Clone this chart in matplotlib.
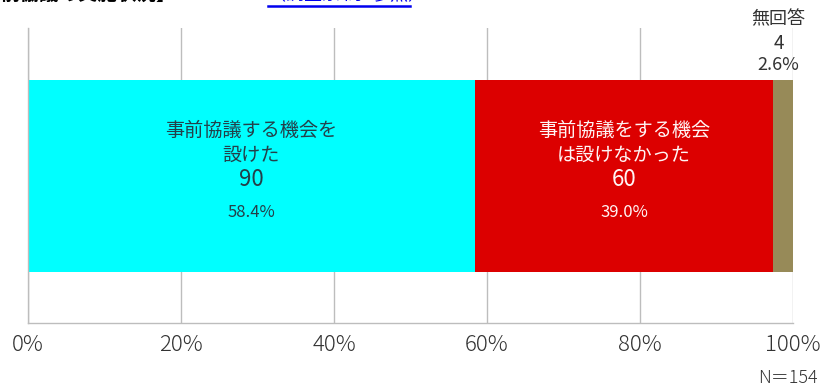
import matplotlib.pyplot as plt
from matplotlib.lines import Line2D

plt.rcParams['font.family'] = ['Noto Sans CJK JP', 'DejaVu Sans']

# answers to the prior-consultation question
categories = [['事前協議する機会を', '設けた'], ['事前協議をする機会', 'は設けなかった'], ['無回答']]
counts = [90, 60, 4]
shares = [58.4, 39.0, 2.6]
total_n = 154
colors = ['#00ffff', '#dc0000', '#978a58']
text_colors = ['#24404a', '#fff4f4', '#333333']
xticks = [0, 20, 40, 60, 80, 100]
xtick_labels = ['0%', '20%', '40%', '60%', '80%', '100%']

fig = plt.figure(figsize=(8.27, 3.89), dpi=100)
ax = fig.add_axes([28 / 827, 1 - 323 / 389, 765 / 827, 295 / 389])

left = 0
for lines, cnt, pct, col, tcol in zip(categories, counts, shares, colors, text_colors):
    ax.barh(0.4985, pct, height=0.651, left=left, color=col, zorder=2)
    mid = left + pct / 2
    if cnt >= 10:
        ax.text(mid, 0.654, lines[0], ha='center', va='center', fontsize=13.8,
                color=tcol, zorder=3)
        ax.text(mid, 0.569, lines[1], ha='center', va='center', fontsize=13.8,
                color=tcol, zorder=3)
        ax.text(mid, 0.485, str(cnt), ha='center', va='center', fontsize=16,
                color=tcol, zorder=3)
        ax.text(mid, 0.376, f'{pct:.1f}%', ha='center', va='center',
                fontsize=12, color=tcol, zorder=3)
    else:
        # small segment: label sits above the bar
        ax.text(mid - 0.6, 1.03, lines[0], ha='center', va='center',
                fontsize=13, color=tcol, clip_on=False)
        ax.text(mid - 0.6, 0.948, str(cnt), ha='center', va='center',
                fontsize=13.5, color=tcol, clip_on=False)
        ax.text(mid - 0.6, 0.875, f'{pct:.1f}%', ha='center', va='center',
                fontsize=13, color=tcol, clip_on=False)
    left += pct

ax.set_xlim(0, 100)
ax.set_ylim(0, 1)
ax.set_xticks(xticks)
ax.set_xticklabels(xtick_labels, fontsize=16, color='#333333', fontweight='light')
ax.set_yticks([])
ax.tick_params(axis='x', length=0, pad=8)
ax.grid(axis='x', color='#bdbdbd', linewidth=1, zorder=1)
for side in ['top', 'right']:
    ax.spines[side].set_visible(False)
for side in ['left', 'bottom']:
    ax.spines[side].set_color('#bdbdbd')
    ax.spines[side].set_linewidth(1)

fig.text(818 / 827, 1 - 378 / 389, f'N＝{total_n}', ha='right', va='center',
         fontsize=13, color='#333333', fontweight='light')

# heading line, mostly above the top edge
fig.text(0.0, 1 - 4 / 389, '前協議の実施状況】', ha='left', va='bottom',
         fontsize=14, fontweight='bold', color='black')
fig.text(268 / 827, 1 - 4 / 389, '（調査票 問6参照）', ha='left', va='bottom',
         fontsize=13, color='#0000ee')
fig.add_artist(Line2D([268 / 827, 410 / 827], [1 - 6 / 389, 1 - 6 / 389],
                      transform=fig.transFigure, color='#0000ee', linewidth=1.8))

fig.savefig('out.png', dpi=100)
